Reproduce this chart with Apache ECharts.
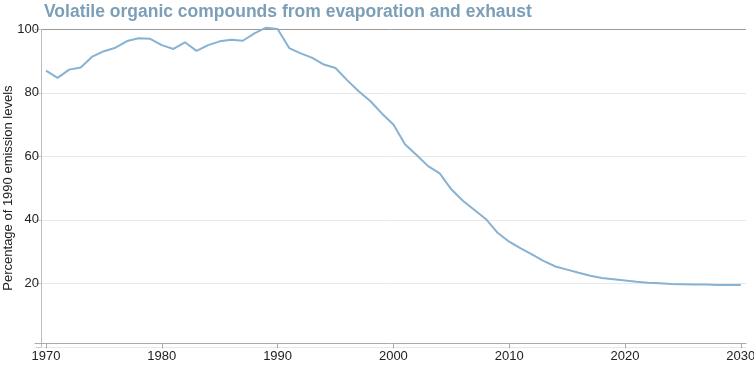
<!DOCTYPE html>
<html>
<head>
<meta charset="utf-8">
<script src="https://cdn.jsdelivr.net/npm/echarts@6/dist/echarts.min.js"></script>
<style>html,body{margin:0;padding:0;background:#fff;}#c{width:754px;height:367px;}</style>
</head>
<body>
<div id="c"></div>
<script>
var titleText = 'Volatile organic compounds from evaporation and exhaust';
var yAxisName = 'Percentage of 1990 emission levels';
var years = [1970,1971,1972,1973,1974,1975,1976,1977,1978,1979,
             1980,1981,1982,1983,1984,1985,1986,1987,1988,1989,
             1990,1991,1992,1993,1994,1995,1996,1997,1998,1999,
             2000,2001,2002,2003,2004,2005,2006,2007,2008,2009,
             2010,2011,2012,2013,2014,2015,2016,2017,2018,2019,
             2020,2021,2022,2023,2024,2025,2026,2027,2028,2029,2030];
var values = [87.0,84.7,87.3,88.0,91.4,93.1,94.2,96.3,97.2,97.0,
              95.0,93.8,95.9,93.2,95.0,96.2,96.7,96.4,98.7,100.5,
              100.1,94.1,92.4,91.0,88.9,87.8,84.0,80.5,77.4,73.5,
              70.0,63.8,60.4,56.9,54.6,49.6,46.0,43.1,40.2,35.9,
              33.1,31.0,29.0,27.0,25.3,24.3,23.3,22.4,21.7,21.3,
              20.9,20.5,20.2,20.0,19.8,19.7,19.6,19.6,19.5,19.5,19.5];
var xTicks = [1970,1980,1990,2000,2010,2020,2030];

var chart = echarts.init(document.getElementById('c'), null, {renderer:'canvas'});
var seriesData = years.map(function(y,i){return [y, values[i]];});
chart.setOption({
  animation:false,
  backgroundColor:'#fff',
  title:{
    text:titleText, left:39, top:-2,
    textStyle:{fontFamily:'Liberation Sans, Arial, sans-serif', fontWeight:'bold', fontSize:17.5, color:'#7c9fb8'}
  },
  grid:{left:35, top:29.3, width:711, height:317.5, containLabel:false, outerBoundsMode:'none'},
  xAxis:{
    type:'value', min:1969.05, max:2030.45, offset:-3.5,
    axisLine:{show:true, onZero:false, lineStyle:{color:'#aaa', width:1}},
    axisTick:{show:true, length:5, lineStyle:{color:'#aaa'}, customValues:xTicks},
    axisLabel:{color:'#222', fontSize:13, fontFamily:'Liberation Sans, Arial, sans-serif', margin:7, customValues:xTicks, formatter:function(v){return String(v);}},
    splitLine:{show:false}
  },
  yAxis:{
    type:'value', min:0, max:100, interval:20, offset:-6,
    name:yAxisName, nameLocation:'middle', nameGap:26, nameRotate:90, nameMoveOverlap:false,
    nameTextStyle:{color:'#222', fontSize:13, fontFamily:'Liberation Sans, Arial, sans-serif'},
    axisLine:{show:true, lineStyle:{color:'#bbb', width:1}},
    axisTick:{show:true, length:5, lineStyle:{color:'#ccc'}},
    axisLabel:{color:'#222', fontSize:13, fontFamily:'Liberation Sans, Arial, sans-serif', margin:2,
      formatter:function(v){return v===0?'':String(v);}},
    splitLine:{show:true, lineStyle:{color:['#e8e8e8','#e8e8e8','#e8e8e8','#e8e8e8','#e8e8e8','#9a9a9a'], width:1}}
  },
  series:[{
    type:'line', data:seriesData, showSymbol:false, symbol:'none', clip:false,
    lineStyle:{color:'#88b2d2', width:2},
    itemStyle:{color:'#88b2d2'}
  }]
});
</script>
</body>
</html>
